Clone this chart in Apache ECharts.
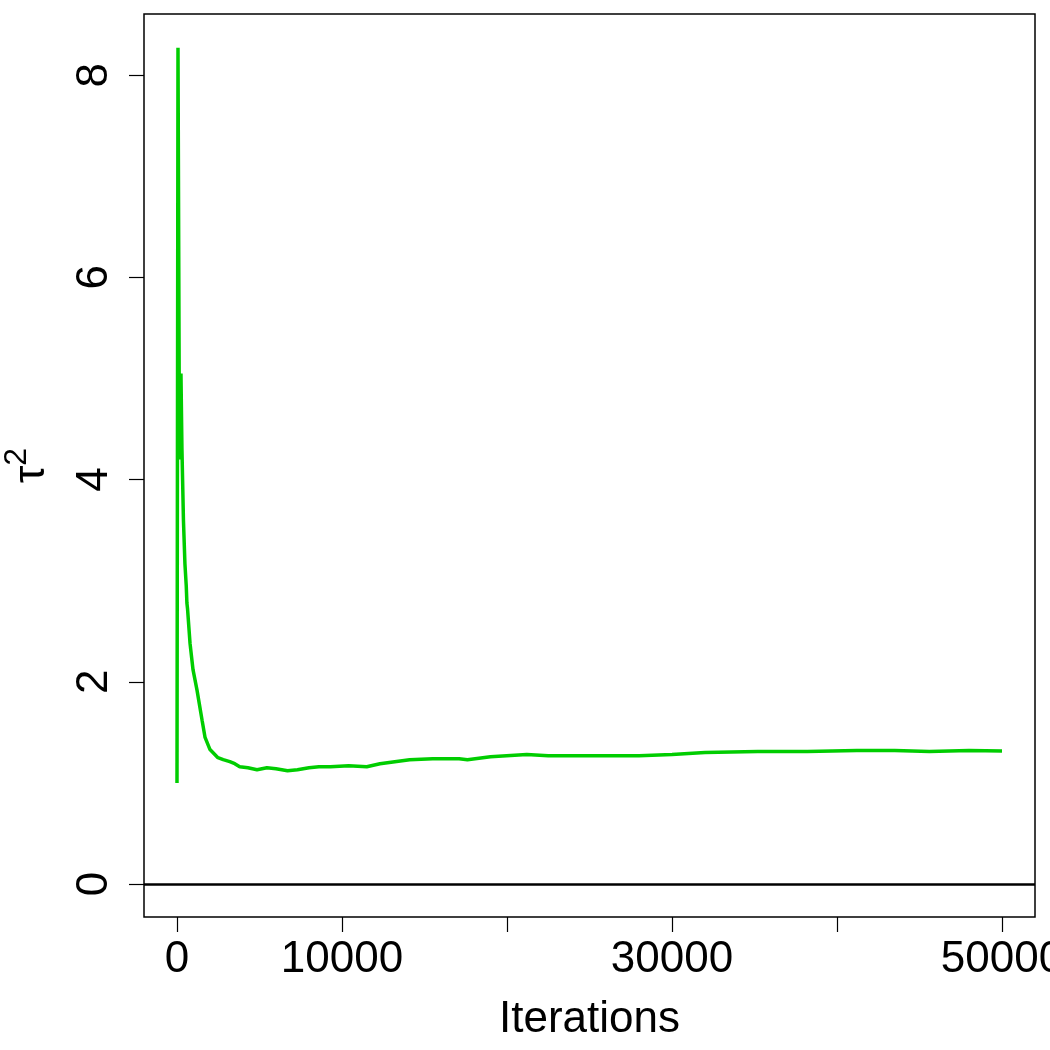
<!DOCTYPE html>
<html>
<head>
<meta charset="utf-8">
<script src="https://cdn.jsdelivr.net/npm/echarts@6/dist/echarts.min.js"></script>
<style>
  html, body { margin: 0; padding: 0; background: #fff; }
  #chart { width: 1050px; height: 1050px; }
</style>
</head>
<body>
<div id="chart"></div>
<script>
// running trace of tau^2
const iterations = [0, 60, 150, 240, 300, 390, 480, 560, 600, 640, 790, 970, 1210, 1520, 1700, 2000,
  2480, 2800, 3200, 3500, 3800, 4300, 4850, 5450, 6000, 6700, 7300, 8000, 8600, 9300, 10400, 11500,
  12300, 13200, 14100, 15500, 17100, 17600, 19000, 21200, 22500, 24000, 26000, 28000, 30000, 32000,
  35200, 38200, 41200, 43500, 45600, 48000, 50000]
const tau2 = [1.0, 8.27, 4.2, 5.05, 4.3, 3.6, 3.17, 2.95, 2.78, 2.72, 2.38, 2.12, 1.92, 1.62, 1.45, 1.33,
  1.25, 1.23, 1.21, 1.19, 1.16, 1.15, 1.13, 1.15, 1.14, 1.12, 1.13, 1.15, 1.16, 1.16, 1.17, 1.16,
  1.19, 1.21, 1.23, 1.24, 1.24, 1.23, 1.26, 1.28, 1.27, 1.27, 1.27, 1.27, 1.28, 1.30,
  1.31, 1.31, 1.32, 1.32, 1.31, 1.32, 1.315]
const xTicks = [0, 10000, 20000, 30000, 40000, 50000]
const xLabels = [0, 10000, 30000, 50000]
const yTicks = [0, 2, 4, 6, 8]

const chart = echarts.init(document.getElementById('chart'))

const font = 'Liberation Sans, Arial, Helvetica, sans-serif'

chart.setOption({
  animation: false,
  backgroundColor: '#fff',
  textStyle: { fontFamily: font },
  grid: {
    left: 144, right: 15, top: 14, bottom: 133,
    containLabel: false,
    outerBoundsMode: 'none',
    show: true,
    borderColor: '#000',
    borderWidth: 1.5,
    backgroundColor: 'transparent'
  },
  xAxis: {
    type: 'value',
    min: -2000,
    max: 52000,
    name: 'Iterations',
    nameLocation: 'middle',
    nameGap: 81,
    nameTextStyle: { fontSize: 44, color: '#000', fontFamily: font },
    axisLine: { show: false, onZero: false },
    splitLine: { show: false },
    axisTick: { show: true, inside: false, length: 15, customValues: xTicks, lineStyle: { color: '#000', width: 1.2 } },
    axisLabel: {
      customValues: xLabels, fontSize: 44, color: '#000', margin: 21, fontFamily: font,
      formatter: v => String(v)
    }
  },
  yAxis: {
    type: 'value',
    min: -0.326,
    max: 8.605,
    name: 'τ{s|2}',
    nameLocation: 'middle',
    nameRotate: 90,
    nameGap: 81,
    nameTextStyle: {
      fontSize: 44, color: '#000', fontFamily: font,
      rich: { s: { fontSize: 32, color: '#000', fontFamily: font, padding: [0, 0, 30, 0] } }
    },
    axisLine: { show: false, onZero: false },
    splitLine: { show: false },
    axisTick: { show: true, inside: false, length: 15, customValues: yTicks, lineStyle: { color: '#000', width: 1.2 } },
    axisLabel: {
      customValues: yTicks, rotate: 90, fontSize: 44, color: '#000', margin: 27, fontFamily: font,
      formatter: v => String(v)
    }
  },
  series: [
    {
      type: 'line',
      data: iterations.map((it, i) => [it, tau2[i]]),
      showSymbol: false,
      lineStyle: { color: '#00CD00', width: 3.5 },
      markLine: {
        silent: true,
        symbol: 'none',
        label: { show: false },
        lineStyle: { color: '#000', width: 2.5, type: 'solid' },
        data: [{ yAxis: 0 }]
      }
    }
  ]
})
</script>
</body>
</html>
